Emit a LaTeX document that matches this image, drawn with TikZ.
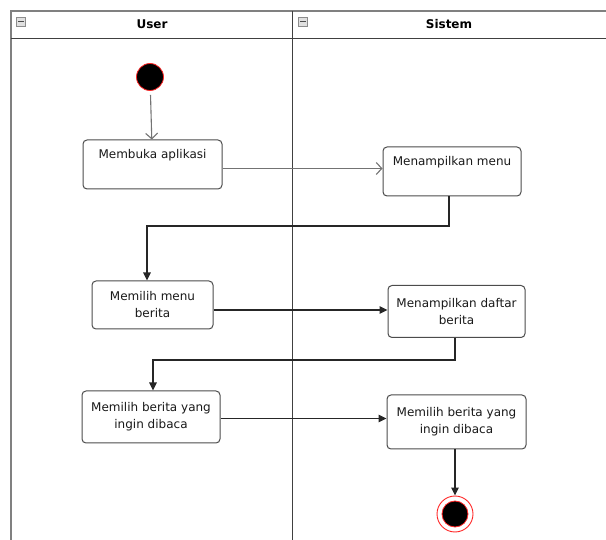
\documentclass[tikz,border=0pt]{standalone}
\usepackage{fontspec}
\setmainfont{DejaVu Sans}
\usetikzlibrary{arrows.meta}
\begin{document}
\begin{tikzpicture}[x=1pt,y=-1pt,
  lane/.style={draw=black!75,line width=1.3pt},
  frame/.style={draw=black!50,line width=1.4pt},
  actbox/.style={draw=black!70,line width=1pt,rounded corners=4pt,fill=white,
    inner sep=0pt,font=\fontsize{12}{17}\selectfont,align=center,text=black!90},
  boxtext/.style={font=\fontsize{12}{17}\selectfont,text=black!90},
  lanetitle/.style={font=\bfseries\fontsize{12}{14}\selectfont},
  flowopen/.style={draw=black!55,line width=1.1pt,-{Straight Barb[length=5.5pt,width=12pt]}},
  flow/.style={draw=black!85,line width=1.1pt,-{Triangle[length=8pt,width=7.5pt]}},
  initial/.style={circle,fill=black,draw=red!85,line width=0.8pt,minimum size=27pt,inner sep=0pt},
  finalring/.style={circle,draw=red!85,line width=0.9pt,minimum size=36pt,inner sep=0pt},
  finaldot/.style={circle,fill=black,draw=red!85,line width=0.8pt,minimum size=26pt,inner sep=0pt},
  collapse/.style={draw=black!45,fill=black!12,line width=0.5pt,minimum size=9pt,inner sep=0pt}
]
\useasboundingbox (0,0) rectangle (606,540);

% swimlane frame
\draw[frame] (11,541) -- (11,11) -- (610,11);
\draw[lane] (11,38.5) -- (610,38.5);
\draw[lane] (292.5,11) -- (292.5,541);

% lane headers
\node[collapse] (colU) at (21,21.5) {};
\draw[black!70,line width=1.2pt] ([xshift=-3pt]colU.center) -- ([xshift=3pt]colU.center);
\node[collapse] (colS) at (303,21.5) {};
\draw[black!70,line width=1.2pt] ([xshift=-3pt]colS.center) -- ([xshift=3pt]colS.center);
\node[lanetitle] (tUser) at (152,24) {User};
\node[lanetitle] (tSistem) at (449,24) {Sistem};

% activity nodes
\node[initial] (start) at (150,77) {};
\node[actbox,minimum width=139pt,minimum height=49pt] (b1) at (152.5,164.5) {};
\node[boxtext] (t1) at (152.5,155) {Membuka aplikasi};
\node[actbox,minimum width=138pt,minimum height=49pt] (b2) at (452,171.5) {};
\node[boxtext] (t2) at (452,162) {Menampilkan menu};
\node[actbox,minimum width=121pt,minimum height=48pt] (b3) at (152.5,305) {Memilih menu\\berita};
\node[actbox,minimum width=137pt,minimum height=52pt] (b4) at (456.5,311.5) {Menampilkan daftar\\berita};
\node[actbox,minimum width=138pt,minimum height=52pt] (b5) at (151,417) {Memilih berita yang\\ingin dibaca};
\node[actbox,minimum width=139pt,minimum height=54pt] (b6) at (456.5,422) {Memilih berita yang\\ingin dibaca};
\node[finalring] (endring) at (455,514) {};
\node[finaldot] (end) at (455,514) {};

% control flow
\draw[flowopen,shorten <=4pt] (start) -- (b1);
\draw[flowopen] ([yshift=-4pt]b1.east) coordinate (s1) -- (s1 -| b2.west);
\draw[flow] ([xshift=-3pt]b2.south) |- (147,226) -- ([xshift=-5.5pt]b3.north);
\draw[flow] ([yshift=-5pt]b3.east) coordinate (s3) -- (s3 -| b4.west);
\draw[flow] ([xshift=-1.5pt]b4.south) |- (153,360) -- ([xshift=2pt]b5.north);
\draw[flow] ([yshift=-1.5pt]b5.east) coordinate (s5) -- (s5 -| b6.west);
\draw[flow] ([xshift=-1.5pt]b6.south) -- (endring);
\end{tikzpicture}
\end{document}
